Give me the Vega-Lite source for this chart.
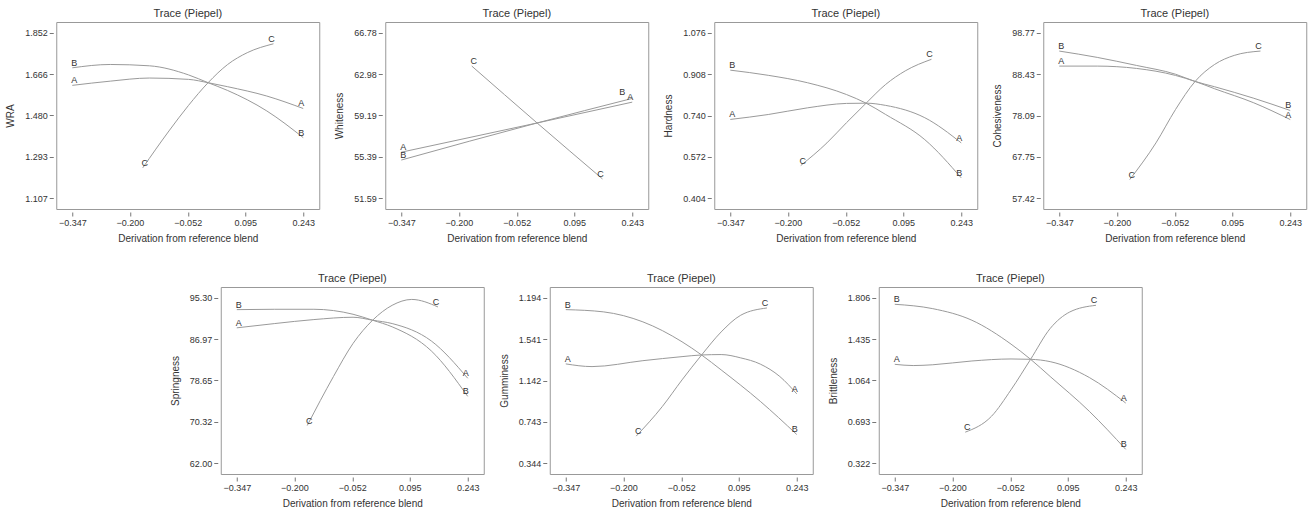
{
  "$schema": "https://vega.github.io/schema/vega-lite/v6.json",
  "background": "white",
  "padding": {"left": 5, "top": 7, "right": 5, "bottom": 5},
  "config": {
    "font": "Liberation Sans",
    "view": {"stroke": "#999999", "strokeWidth": 1},
    "axis": {"domain": false, "grid": false, "tickColor": "#777777", "tickSize": 4, "offset": 3, "labelFontSize": 9, "labelColor": "#333333", "labelPadding": 2, "titleFontSize": 10, "titleFontWeight": "normal", "titleColor": "#333333", "titleFont": "Liberation Sans", "labelFont": "Liberation Sans"},
    "axisY": {"titlePadding": 9},
    "axisX": {"titlePadding": 6},
    "title": {"fontSize": 11, "fontWeight": "normal", "color": "#333333", "offset": 3, "font": "Liberation Sans"},
    "line": {"stroke": "#9a9a9a", "strokeWidth": 1, "interpolate": "monotone"},
    "text": {"fontSize": 9, "color": "#333333", "baseline": "middle"}
  },
  "data": {"values": [
    {"p":"WRA","c":"A","x":-0.347,"y":1.615},{"p":"WRA","c":"A","x":-0.25,"y":1.634},{"p":"WRA","c":"A","x":-0.15,"y":1.648},{"p":"WRA","c":"A","x":-0.05,"y":1.642},{"p":"WRA","c":"A","x":0,"y":1.627},{"p":"WRA","c":"A","x":0.05,"y":1.609},{"p":"WRA","c":"A","x":0.15,"y":1.567},{"p":"WRA","c":"A","x":0.243,"y":1.511},
    {"p":"WRA","c":"B","x":-0.347,"y":1.694},{"p":"WRA","c":"B","x":-0.25,"y":1.709},{"p":"WRA","c":"B","x":-0.15,"y":1.703},{"p":"WRA","c":"B","x":-0.05,"y":1.662},{"p":"WRA","c":"B","x":0,"y":1.627},{"p":"WRA","c":"B","x":0.05,"y":1.592},{"p":"WRA","c":"B","x":0.15,"y":1.5},{"p":"WRA","c":"B","x":0.243,"y":1.38},
    {"p":"WRA","c":"C","x":-0.167,"y":1.244},{"p":"WRA","c":"C","x":-0.1,"y":1.41},{"p":"WRA","c":"C","x":-0.05,"y":1.525},{"p":"WRA","c":"C","x":0,"y":1.627},{"p":"WRA","c":"C","x":0.05,"y":1.709},{"p":"WRA","c":"C","x":0.1,"y":1.762},{"p":"WRA","c":"C","x":0.167,"y":1.802},

    {"p":"Whiteness","c":"A","x":-0.347,"y":55.82},{"p":"Whiteness","c":"A","x":0,"y":58.5},{"p":"Whiteness","c":"A","x":0.243,"y":60.41},
    {"p":"Whiteness","c":"B","x":-0.347,"y":55.1},{"p":"Whiteness","c":"B","x":0,"y":58.5},{"p":"Whiteness","c":"B","x":0.243,"y":60.75},
    {"p":"Whiteness","c":"C","x":-0.167,"y":63.72},{"p":"Whiteness","c":"C","x":0,"y":58.5},{"p":"Whiteness","c":"C","x":0.167,"y":53.37},

    {"p":"Hardness","c":"A","x":-0.347,"y":0.724},{"p":"Hardness","c":"A","x":-0.25,"y":0.744},{"p":"Hardness","c":"A","x":-0.15,"y":0.771},{"p":"Hardness","c":"A","x":-0.05,"y":0.789},{"p":"Hardness","c":"A","x":0,"y":0.79},{"p":"Hardness","c":"A","x":0.05,"y":0.781},{"p":"Hardness","c":"A","x":0.15,"y":0.731},{"p":"Hardness","c":"A","x":0.243,"y":0.629},
    {"p":"Hardness","c":"B","x":-0.347,"y":0.924},{"p":"Hardness","c":"B","x":-0.25,"y":0.903},{"p":"Hardness","c":"B","x":-0.15,"y":0.873},{"p":"Hardness","c":"B","x":-0.05,"y":0.825},{"p":"Hardness","c":"B","x":0,"y":0.79},{"p":"Hardness","c":"B","x":0.05,"y":0.744},{"p":"Hardness","c":"B","x":0.15,"y":0.642},{"p":"Hardness","c":"B","x":0.243,"y":0.487},
    {"p":"Hardness","c":"C","x":-0.167,"y":0.537},{"p":"Hardness","c":"C","x":-0.1,"y":0.629},{"p":"Hardness","c":"C","x":-0.05,"y":0.711},{"p":"Hardness","c":"C","x":0,"y":0.79},{"p":"Hardness","c":"C","x":0.05,"y":0.866},{"p":"Hardness","c":"C","x":0.1,"y":0.921},{"p":"Hardness","c":"C","x":0.167,"y":0.968},

    {"p":"Cohesiveness","c":"A","x":-0.347,"y":90.43},{"p":"Cohesiveness","c":"A","x":-0.25,"y":90.43},{"p":"Cohesiveness","c":"A","x":-0.15,"y":89.85},{"p":"Cohesiveness","c":"A","x":-0.05,"y":88.1},{"p":"Cohesiveness","c":"A","x":0,"y":86.6},{"p":"Cohesiveness","c":"A","x":0.05,"y":84.77},{"p":"Cohesiveness","c":"A","x":0.15,"y":81.26},{"p":"Cohesiveness","c":"A","x":0.243,"y":77.09},
    {"p":"Cohesiveness","c":"B","x":-0.347,"y":94.18},{"p":"Cohesiveness","c":"B","x":-0.25,"y":92.6},{"p":"Cohesiveness","c":"B","x":-0.15,"y":90.6},{"p":"Cohesiveness","c":"B","x":-0.05,"y":88.4},{"p":"Cohesiveness","c":"B","x":0,"y":86.6},{"p":"Cohesiveness","c":"B","x":0.05,"y":85.27},{"p":"Cohesiveness","c":"B","x":0.15,"y":82.4},{"p":"Cohesiveness","c":"B","x":0.243,"y":79.35},
    {"p":"Cohesiveness","c":"C","x":-0.167,"y":62.09},{"p":"Cohesiveness","c":"C","x":-0.1,"y":71.26},{"p":"Cohesiveness","c":"C","x":-0.05,"y":79.6},{"p":"Cohesiveness","c":"C","x":0,"y":86.6},{"p":"Cohesiveness","c":"C","x":0.05,"y":90.85},{"p":"Cohesiveness","c":"C","x":0.1,"y":93.1},{"p":"Cohesiveness","c":"C","x":0.167,"y":94.18},

    {"p":"Springness","c":"A","x":-0.347,"y":89.24},{"p":"Springness","c":"A","x":-0.25,"y":90.1},{"p":"Springness","c":"A","x":-0.15,"y":90.9},{"p":"Springness","c":"A","x":-0.05,"y":91.37},{"p":"Springness","c":"A","x":0,"y":90.77},{"p":"Springness","c":"A","x":0.05,"y":90.1},{"p":"Springness","c":"A","x":0.15,"y":86.6},{"p":"Springness","c":"A","x":0.243,"y":79.1},
    {"p":"Springness","c":"B","x":-0.347,"y":92.9},{"p":"Springness","c":"B","x":-0.25,"y":92.97},{"p":"Springness","c":"B","x":-0.15,"y":92.97},{"p":"Springness","c":"B","x":-0.05,"y":91.97},{"p":"Springness","c":"B","x":0,"y":90.77},{"p":"Springness","c":"B","x":0.05,"y":89.44},{"p":"Springness","c":"B","x":0.15,"y":84.6},{"p":"Springness","c":"B","x":0.243,"y":75.46},
    {"p":"Springness","c":"C","x":-0.167,"y":69.6},{"p":"Springness","c":"C","x":-0.1,"y":79.45},{"p":"Springness","c":"C","x":-0.05,"y":86.1},{"p":"Springness","c":"C","x":0,"y":90.77},{"p":"Springness","c":"C","x":0.05,"y":93.77},{"p":"Springness","c":"C","x":0.1,"y":94.95},{"p":"Springness","c":"C","x":0.167,"y":93.44},

    {"p":"Gumminess","c":"A","x":-0.347,"y":1.302},{"p":"Gumminess","c":"A","x":-0.28,"y":1.276},{"p":"Gumminess","c":"A","x":-0.15,"y":1.333},{"p":"Gumminess","c":"A","x":-0.05,"y":1.372},{"p":"Gumminess","c":"A","x":0,"y":1.388},{"p":"Gumminess","c":"A","x":0.05,"y":1.392},{"p":"Gumminess","c":"A","x":0.1,"y":1.36},{"p":"Gumminess","c":"A","x":0.15,"y":1.3},{"p":"Gumminess","c":"A","x":0.2,"y":1.18},{"p":"Gumminess","c":"A","x":0.243,"y":1.014},
    {"p":"Gumminess","c":"B","x":-0.347,"y":1.825},{"p":"Gumminess","c":"B","x":-0.25,"y":1.803},{"p":"Gumminess","c":"B","x":-0.15,"y":1.707},{"p":"Gumminess","c":"B","x":-0.05,"y":1.515},{"p":"Gumminess","c":"B","x":0,"y":1.388},{"p":"Gumminess","c":"B","x":0.05,"y":1.244},{"p":"Gumminess","c":"B","x":0.15,"y":0.941},{"p":"Gumminess","c":"B","x":0.243,"y":0.622},
    {"p":"Gumminess","c":"C","x":-0.167,"y":0.606},{"p":"Gumminess","c":"C","x":-0.1,"y":0.893},{"p":"Gumminess","c":"C","x":-0.05,"y":1.148},{"p":"Gumminess","c":"C","x":0,"y":1.388},{"p":"Gumminess","c":"C","x":0.05,"y":1.61},{"p":"Gumminess","c":"C","x":0.1,"y":1.771},{"p":"Gumminess","c":"C","x":0.167,"y":1.841},

    {"p":"Brittleness","c":"A","x":-0.347,"y":1.209},{"p":"Brittleness","c":"A","x":-0.3,"y":1.198},{"p":"Brittleness","c":"A","x":-0.25,"y":1.205},{"p":"Brittleness","c":"A","x":-0.15,"y":1.239},{"p":"Brittleness","c":"A","x":-0.05,"y":1.257},{"p":"Brittleness","c":"A","x":0,"y":1.254},{"p":"Brittleness","c":"A","x":0.05,"y":1.233},{"p":"Brittleness","c":"A","x":0.15,"y":1.091},{"p":"Brittleness","c":"A","x":0.243,"y":0.862},
    {"p":"Brittleness","c":"B","x":-0.347,"y":1.747},{"p":"Brittleness","c":"B","x":-0.25,"y":1.708},{"p":"Brittleness","c":"B","x":-0.15,"y":1.604},{"p":"Brittleness","c":"B","x":-0.05,"y":1.39},{"p":"Brittleness","c":"B","x":0,"y":1.254},{"p":"Brittleness","c":"B","x":0.05,"y":1.1},{"p":"Brittleness","c":"B","x":0.15,"y":0.788},{"p":"Brittleness","c":"B","x":0.243,"y":0.447},
    {"p":"Brittleness","c":"C","x":-0.167,"y":0.601},{"p":"Brittleness","c":"C","x":-0.1,"y":0.743},{"p":"Brittleness","c":"C","x":-0.05,"y":0.981},{"p":"Brittleness","c":"C","x":0,"y":1.254},{"p":"Brittleness","c":"C","x":0.05,"y":1.53},{"p":"Brittleness","c":"C","x":0.1,"y":1.678},{"p":"Brittleness","c":"C","x":0.167,"y":1.738}
  ]},
  "center": true,
  "spacing": 28,
  "vconcat": [
    {"hconcat": [
      {"width": 263, "height": 187, "title": "Trace (Piepel)",
       "transform": [{"filter": "datum.p === 'WRA'"}],
       "encoding": {
         "x": {"field": "x", "type": "quantitative", "scale": {"domain": [-0.388, 0.284], "nice": false, "zero": false}, "axis": {"values": [-0.347, -0.2, -0.052, 0.095, 0.243], "format": ".3f", "title": "Derivation from reference blend"}},
         "y": {"field": "y", "type": "quantitative", "scale": {"domain": [1.059, 1.9], "nice": false, "zero": false}, "axis": {"values": [1.107, 1.293, 1.48, 1.666, 1.852], "format": ".3f", "title": "WRA"}}
       },
       "layer": [
         {"mark": {"type": "line"}, "encoding": {"detail": {"field": "c"}}},
         {"transform": [{"joinaggregate": [{"op": "min", "field": "x", "as": "x0"}], "groupby": ["c"]}, {"filter": "datum.x === datum.x0"}], "mark": {"type": "text", "dx": 2, "dy": -5}, "encoding": {"text": {"field": "c"}}},
         {"transform": [{"joinaggregate": [{"op": "max", "field": "x", "as": "x1"}], "groupby": ["c"]}, {"filter": "datum.x === datum.x1"}], "mark": {"type": "text", "dx": -2, "dy": -5}, "encoding": {"text": {"field": "c"}}}
       ]},
      {"width": 263, "height": 187, "title": "Trace (Piepel)",
       "transform": [{"filter": "datum.p === 'Whiteness'"}],
       "encoding": {
         "x": {"field": "x", "type": "quantitative", "scale": {"domain": [-0.388, 0.284], "nice": false, "zero": false}, "axis": {"values": [-0.347, -0.2, -0.052, 0.095, 0.243], "format": ".3f", "title": "Derivation from reference blend"}},
         "y": {"field": "y", "type": "quantitative", "scale": {"domain": [50.61, 67.76], "nice": false, "zero": false}, "axis": {"values": [51.59, 55.39, 59.19, 62.98, 66.78], "format": ".2f", "title": "Whiteness"}}
       },
       "layer": [
         {"mark": {"type": "line"}, "encoding": {"detail": {"field": "c"}}},
         {"transform": [{"joinaggregate": [{"op": "min", "field": "x", "as": "x0"}], "groupby": ["c"]}, {"filter": "datum.x === datum.x0"}], "mark": {"type": "text", "dx": 2, "dy": -5}, "encoding": {"text": {"field": "c"}}},
         {"transform": [{"joinaggregate": [{"op": "max", "field": "x", "as": "x1"}], "groupby": ["c"]}, {"filter": "datum.x === datum.x1 && datum.c !== 'B'"}], "mark": {"type": "text", "dx": -2, "dy": -5}, "encoding": {"text": {"field": "c"}}},
         {"transform": [{"joinaggregate": [{"op": "max", "field": "x", "as": "x1"}], "groupby": ["c"]}, {"filter": "datum.x === datum.x1 && datum.c === 'B'"}], "mark": {"type": "text", "dx": -10, "dy": -6}, "encoding": {"text": {"field": "c"}}}
       ]},
      {"width": 263, "height": 187, "title": "Trace (Piepel)",
       "transform": [{"filter": "datum.p === 'Hardness'"}],
       "encoding": {
         "x": {"field": "x", "type": "quantitative", "scale": {"domain": [-0.388, 0.284], "nice": false, "zero": false}, "axis": {"values": [-0.347, -0.2, -0.052, 0.095, 0.243], "format": ".3f", "title": "Derivation from reference blend"}},
         "y": {"field": "y", "type": "quantitative", "scale": {"domain": [0.3607, 1.1193], "nice": false, "zero": false}, "axis": {"values": [0.404, 0.572, 0.74, 0.908, 1.076], "format": ".3f", "title": "Hardness"}}
       },
       "layer": [
         {"mark": {"type": "line"}, "encoding": {"detail": {"field": "c"}}},
         {"transform": [{"joinaggregate": [{"op": "min", "field": "x", "as": "x0"}], "groupby": ["c"]}, {"filter": "datum.x === datum.x0"}], "mark": {"type": "text", "dx": 2, "dy": -5}, "encoding": {"text": {"field": "c"}}},
         {"transform": [{"joinaggregate": [{"op": "max", "field": "x", "as": "x1"}], "groupby": ["c"]}, {"filter": "datum.x === datum.x1"}], "mark": {"type": "text", "dx": -2, "dy": -5}, "encoding": {"text": {"field": "c"}}}
       ]},
      {"width": 263, "height": 187, "title": "Trace (Piepel)",
       "transform": [{"filter": "datum.p === 'Cohesiveness'"}],
       "encoding": {
         "x": {"field": "x", "type": "quantitative", "scale": {"domain": [-0.388, 0.284], "nice": false, "zero": false}, "axis": {"values": [-0.347, -0.2, -0.052, 0.095, 0.243], "format": ".3f", "title": "Derivation from reference blend"}},
         "y": {"field": "y", "type": "quantitative", "scale": {"domain": [54.75, 101.44], "nice": false, "zero": false}, "axis": {"values": [57.42, 67.75, 78.09, 88.43, 98.77], "format": ".2f", "title": "Cohesiveness"}}
       },
       "layer": [
         {"mark": {"type": "line"}, "encoding": {"detail": {"field": "c"}}},
         {"transform": [{"joinaggregate": [{"op": "min", "field": "x", "as": "x0"}], "groupby": ["c"]}, {"filter": "datum.x === datum.x0"}], "mark": {"type": "text", "dx": 2, "dy": -5}, "encoding": {"text": {"field": "c"}}},
         {"transform": [{"joinaggregate": [{"op": "max", "field": "x", "as": "x1"}], "groupby": ["c"]}, {"filter": "datum.x === datum.x1"}], "mark": {"type": "text", "dx": -2, "dy": -5}, "encoding": {"text": {"field": "c"}}}
       ]}
    ], "bounds": "flush", "spacing": 66},
    {"hconcat": [
      {"width": 263, "height": 187, "title": "Trace (Piepel)",
       "transform": [{"filter": "datum.p === 'Springness'"}],
       "encoding": {
         "x": {"field": "x", "type": "quantitative", "scale": {"domain": [-0.388, 0.284], "nice": false, "zero": false}, "axis": {"values": [-0.347, -0.2, -0.052, 0.095, 0.243], "format": ".3f", "title": "Derivation from reference blend"}},
         "y": {"field": "y", "type": "quantitative", "scale": {"domain": [59.85, 97.45], "nice": false, "zero": false}, "axis": {"values": [62.0, 70.32, 78.65, 86.97, 95.3], "format": ".2f", "title": "Springness"}}
       },
       "layer": [
         {"mark": {"type": "line"}, "encoding": {"detail": {"field": "c"}}},
         {"transform": [{"joinaggregate": [{"op": "min", "field": "x", "as": "x0"}], "groupby": ["c"]}, {"filter": "datum.x === datum.x0"}], "mark": {"type": "text", "dx": 2, "dy": -5}, "encoding": {"text": {"field": "c"}}},
         {"transform": [{"joinaggregate": [{"op": "max", "field": "x", "as": "x1"}], "groupby": ["c"]}, {"filter": "datum.x === datum.x1"}], "mark": {"type": "text", "dx": -2, "dy": -5}, "encoding": {"text": {"field": "c"}}}
       ]},
      {"width": 263, "height": 187, "title": "Trace (Piepel)",
       "transform": [{"filter": "datum.p === 'Gumminess'"}],
       "encoding": {
         "x": {"field": "x", "type": "quantitative", "scale": {"domain": [-0.388, 0.284], "nice": false, "zero": false}, "axis": {"values": [-0.347, -0.2, -0.052, 0.095, 0.243], "format": ".3f", "title": "Derivation from reference blend"}},
         "y": {"field": "y", "type": "quantitative", "scale": {"domain": [0.241, 2.043], "nice": false, "zero": false}, "axis": {"values": [0.344, 0.743, 1.142, 1.541, 1.94], "labelExpr": "datum.value > 1.9 ? '1.194' : format(datum.value, '.3f')", "title": "Gumminess"}}
       },
       "layer": [
         {"mark": {"type": "line"}, "encoding": {"detail": {"field": "c"}}},
         {"transform": [{"joinaggregate": [{"op": "min", "field": "x", "as": "x0"}], "groupby": ["c"]}, {"filter": "datum.x === datum.x0"}], "mark": {"type": "text", "dx": 2, "dy": -5}, "encoding": {"text": {"field": "c"}}},
         {"transform": [{"joinaggregate": [{"op": "max", "field": "x", "as": "x1"}], "groupby": ["c"]}, {"filter": "datum.x === datum.x1"}], "mark": {"type": "text", "dx": -2, "dy": -5}, "encoding": {"text": {"field": "c"}}}
       ]},
      {"width": 263, "height": 187, "title": "Trace (Piepel)",
       "transform": [{"filter": "datum.p === 'Brittleness'"}],
       "encoding": {
         "x": {"field": "x", "type": "quantitative", "scale": {"domain": [-0.388, 0.284], "nice": false, "zero": false}, "axis": {"values": [-0.347, -0.2, -0.052, 0.095, 0.243], "format": ".3f", "title": "Derivation from reference blend"}},
         "y": {"field": "y", "type": "quantitative", "scale": {"domain": [0.226, 1.902], "nice": false, "zero": false}, "axis": {"values": [0.322, 0.693, 1.064, 1.435, 1.806], "format": ".3f", "title": "Brittleness"}}
       },
       "layer": [
         {"mark": {"type": "line"}, "encoding": {"detail": {"field": "c"}}},
         {"transform": [{"joinaggregate": [{"op": "min", "field": "x", "as": "x0"}], "groupby": ["c"]}, {"filter": "datum.x === datum.x0"}], "mark": {"type": "text", "dx": 2, "dy": -5}, "encoding": {"text": {"field": "c"}}},
         {"transform": [{"joinaggregate": [{"op": "max", "field": "x", "as": "x1"}], "groupby": ["c"]}, {"filter": "datum.x === datum.x1"}], "mark": {"type": "text", "dx": -2, "dy": -5}, "encoding": {"text": {"field": "c"}}}
       ]}
    ], "bounds": "flush", "spacing": 66}
  ]
}
